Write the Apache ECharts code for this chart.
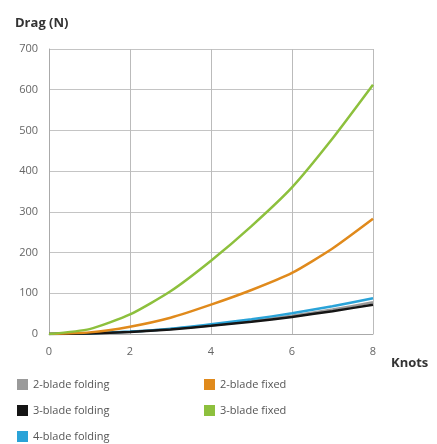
<!DOCTYPE html>
<html>
<head>
<meta charset="utf-8">
<script src="https://cdn.jsdelivr.net/npm/echarts@6/dist/echarts.min.js"></script>
<style>
  html, body { margin: 0; padding: 0; background: #fff; }
  #chart { width: 437px; height: 444px; }
</style>
</head>
<body>
<div id="chart"></div>
<script>
// knots on the x axis
const knots = [0, 1, 2, 3, 4, 5, 6, 7, 8];

// drag (N)
const twoBladeFolding = [0, 1.3, 5.5, 12, 21, 32, 45, 60, 78];
const threeBladeFolding = [0, 1.2, 5, 11, 20, 30, 42, 56, 72];
const fourBladeFolding = [0, 1.5, 6, 13, 24, 36, 51, 68, 88];
const twoBladeFixed = [0, 4, 18, 40, 72, 108, 150, 210, 283];
const threeBladeFixed = [0, 12, 48, 105, 180, 265, 360, 480, 612];

const font = "Open Sans";
const chart = echarts.init(document.getElementById("chart"));

const mk = (name, data, color, z) => ({
  name: name,
  type: "line",
  data: data.map((v, i) => [knots[i], v]),
  smooth: 0.2,
  showSymbol: false,
  lineStyle: { color: color, width: 2.5 },
  itemStyle: { color: color },
  z: z
});

const legendBase = {
  orient: "vertical",
  top: 374,
  height: 120,
  itemWidth: 11,
  itemHeight: 11,
  itemGap: 15,
  icon: "rect",
  textStyle: { fontFamily: font, fontSize: 11, color: "#555" }
};

chart.setOption({
  animation: false,
  title: [
    { text: "Drag (N)", left: 10, top: 12, textStyle: { fontFamily: font, fontSize: 13, fontWeight: "bold", color: "#333" } },
    { text: "Knots", left: 386, top: 352, textStyle: { fontFamily: font, fontSize: 13, fontWeight: "bold", color: "#333" } }
  ],
  legend: [
    Object.assign({}, legendBase, { left: 12, data: ["2-blade folding", "3-blade folding", "4-blade folding"] }),
    Object.assign({}, legendBase, { left: 199, data: ["2-blade fixed", "3-blade fixed"] })
  ],
  grid: { left: 49, right: 64, top: 49, bottom: 110, containLabel: false },
  xAxis: {
    type: "value",
    min: 0,
    max: 8,
    interval: 2,
    axisLine: { lineStyle: { color: "#aaa" } },
    axisTick: { show: false },
    axisLabel: { fontFamily: font, fontSize: 11, color: "#666", margin: 12 },
    splitLine: { show: true, lineStyle: { color: "#bbb", width: 1 } }
  },
  yAxis: {
    type: "value",
    min: 0,
    max: 700,
    interval: 100,
    axisLine: { show: true, lineStyle: { color: "#aaa" } },
    axisTick: { show: false },
    axisLabel: { fontFamily: font, fontSize: 11, color: "#666", margin: 11 },
    splitLine: { show: true, lineStyle: { color: "#c4c4c4", width: 1 } }
  },
  series: [
    mk("2-blade folding", twoBladeFolding, "#9a9a9a", 2),
    mk("4-blade folding", fourBladeFolding, "#2aa3d8", 3),
    mk("3-blade folding", threeBladeFolding, "#151515", 4),
    mk("2-blade fixed", twoBladeFixed, "#e08a1c", 5),
    mk("3-blade fixed", threeBladeFixed, "#8dc03d", 6)
  ]
});
</script>
</body>
</html>
